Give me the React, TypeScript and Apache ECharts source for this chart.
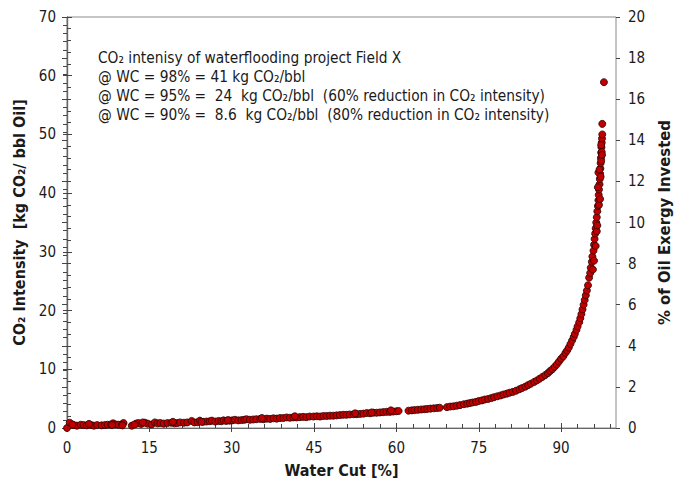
import React, { useEffect, useRef } from "react";
import * as echarts from "echarts";

const FONT = '"DejaVu Sans Condensed", "DejaVu Sans", sans-serif';

const xMajorTicks = [0, 15, 30, 45, 60, 75, 90];
const xMinorTicks = [0, 3, 6, 9, 12, 15, 18, 21, 24, 27, 30, 33, 36, 39, 42, 45, 48, 51, 54, 57, 60, 63, 66, 69, 72, 75, 78, 81, 84, 87, 90, 93, 96, 99];

const annotationLines = [
  "CO₂ intenisy of waterflooding project Field X",
  "@ WC = 98% = 41 kg CO₂/bbl",
  "@ WC = 95% =  24  kg CO₂/bbl  (60% reduction in CO₂ intensity)",
  "@ WC = 90% =  8.6  kg CO₂/bbl  (80% reduction in CO₂ intensity)",
];

const waterCut = [
  0, 0.5, 1.2, 1.8, 2.5, 3.0, 3.6, 4.4, 4.9, 5.5, 6.3, 6.9, 7.4, 8.0, 8.4, 8.9, 9.4, 10.0, 10.3,
  11.8, 12.6, 13.0, 13.5, 14.2, 14.7, 15.4, 16.0, 16.5, 17.0, 17.6, 18.3, 19.0, 19.6, 20.1, 20.6,
  21.3, 21.9, 22.7, 23.2, 23.8, 24.2, 24.8, 25.4, 26.0, 26.4, 27.0, 27.6, 28.1, 28.5, 29.0, 29.6,
  30.1, 30.6, 31.2, 31.8, 32.3, 32.7, 33.3, 33.9, 34.5, 35.2, 35.8, 36.4, 37.0, 37.6, 38.2, 38.8,
  39.4, 40.0, 40.6, 41.2, 41.8, 42.4, 43.0, 43.6, 44.2, 44.9, 45.5, 46.1, 46.7, 47.3, 47.9, 48.5,
  49.1, 49.7, 50.3, 50.9, 51.5, 52.2, 52.8, 53.4, 54.0, 54.6, 55.2, 55.8, 56.4, 57.0, 57.6, 58.2,
  58.8, 59.4, 60.0, 60.4, 62.2, 62.8, 63.3, 63.9, 64.5, 65.1, 65.6, 66.2, 66.8, 67.4, 67.9, 69.2,
  69.8, 70.4, 71.0, 71.6, 72.3, 72.9, 73.4, 73.9, 74.5, 75.0, 75.6, 76.1, 76.7, 77.3, 77.8, 78.4,
  79.0, 79.5, 80.1, 80.6, 81.2, 81.8, 82.4, 82.9, 83.5, 84.0, 84.5, 85.1, 85.6, 86.1, 86.6, 87.1,
  87.6, 88.0, 88.4, 88.8, 89.2, 89.6, 90.0, 90.4, 90.8, 91.1, 91.4, 91.7, 92.0, 92.3, 92.5, 92.8,
  93.0, 93.3, 93.5, 93.7, 93.9, 94.1, 94.3, 94.5, 94.7, 94.9, 95.1, 95.3, 95.4, 95.6, 95.7, 95.9,
  96.0, 96.1, 96.2, 96.3, 96.4, 96.5, 96.6, 96.7, 96.8, 96.85, 96.9, 97.0, 97.05, 97.1, 97.15, 97.2,
  97.25, 97.3, 97.35, 97.4, 97.45, 97.5, 97.5, 97.8,
  95.8, 96.0, 96.3, 96.5, 96.6, 96.7, 96.8, 96.9, 97.0, 97.1, 97.2, 97.3, 97.4, 97.3, 97.45,
  1.0, 4.0, 8.2, 10.1, 12.3, 13.8, 19.3, 24.5, 29.3, 35.5, 41.5, 52.5, 55.5, 59.0,
];

const intensity = [
  0, 0.9, 0.5, 0.4, 0.55, 0.5, 0.45, 0.5, 0.4, 0.5, 0.45, 0.5, 0.55, 0.6, 0.8, 0.6, 0.55, 0.65, 0.85,
  0.4, 0.75, 0.85, 0.7, 0.9, 0.75, 0.6, 0.95, 0.8, 0.85, 0.75, 0.85, 0.9, 0.8, 0.85, 0.95,
  0.9, 0.95, 1.2, 0.95, 1.0, 1.25, 1.05, 1.1, 1.15, 1.25, 1.1, 1.2, 1.15, 1.3, 1.2, 1.25,
  1.3, 1.4, 1.3, 1.35, 1.4, 1.5, 1.4, 1.45, 1.5, 1.55, 1.5, 1.6, 1.55, 1.65, 1.6, 1.7,
  1.7, 1.8, 1.75, 1.8, 1.8, 1.85, 1.9, 1.85, 1.95, 1.95, 2.0, 1.95, 2.05, 2.05, 2.1, 2.1,
  2.15, 2.2, 2.25, 2.25, 2.3, 2.35, 2.35, 2.4, 2.45, 2.55, 2.5, 2.6, 2.6, 2.65, 2.7, 2.75,
  2.75, 2.8, 2.85, 2.9, 2.95, 3.0, 3.05, 3.1, 3.15, 3.2, 3.25, 3.3, 3.35, 3.4, 3.45, 3.55,
  3.65, 3.7, 3.8, 3.9, 4.05, 4.15, 4.25, 4.35, 4.45, 4.6, 4.7, 4.85, 4.95, 5.1, 5.25, 5.4,
  5.55, 5.7, 5.85, 6.0, 6.15, 6.35, 6.6, 6.8, 7.05, 7.3, 7.55, 7.85, 8.1, 8.4, 8.7, 9.0,
  9.35, 9.7, 10.0, 10.4, 10.8, 11.3, 11.8, 12.2, 12.8, 13.2, 13.7, 14.3, 14.9, 15.5, 16.0, 16.7,
  17.3, 18.0, 18.7, 19.4, 20.2, 21.0, 21.8, 22.6, 23.4, 24.3, 25.6, 26.4, 27.3, 28.3, 29.2, 30.2,
  31.2, 32.2, 33.1, 34.0, 35.0, 35.9, 36.9, 37.8, 38.8, 39.7, 40.6, 41.5, 42.4, 43.3, 44.2, 45.1,
  46.0, 46.9, 47.8, 48.6, 49.3, 50.0, 51.8, 58.9,
  27.0, 28.5, 31.0, 33.5, 34.5, 41.0, 43.5, 38.0, 44.0, 39.0, 42.8, 45.5, 47.0, 48.2, 46.5,
  0.6, 0.7, 0.5, 0.45, 0.6, 0.95, 1.05, 1.05, 1.35, 1.7, 2.0, 2.5, 2.65, 3.0,
];

const tickColor = "#444";
const labelStyle = { fontFamily: FONT, fontSize: 15, color: "#1a1a1a" };
const nameStyle = { fontFamily: FONT, fontSize: 16, fontWeight: "bold" as const, color: "#1a1a1a" };

export default function App() {
  const ref = useRef<HTMLDivElement>(null);
  useEffect(() => {
    if (!ref.current) return;
    const chart = echarts.init(ref.current, null, { renderer: "svg" });
    const points = waterCut.map((x, i) => [x, intensity[i]]);
    const hidden = { axisLabel: { show: false }, splitLine: { show: false }, axisLine: { show: false } };
    chart.setOption({
      animation: false,
      backgroundColor: "#ffffff",
      grid: {
        left: 67,
        right: 74,
        top: 17,
        bottom: 56,
        show: true,
        borderColor: "#8a8a8a",
        borderWidth: 1,
        backgroundColor: "transparent",
      },
      xAxis: [
        {
          type: "value",
          min: 0,
          max: 100,
          interval: 15,
          position: "bottom",
          axisLine: { show: true, lineStyle: { color: "#666", width: 1.2 } },
          axisTick: { show: true, inside: true, length: 5, customValues: xMajorTicks, lineStyle: { color: tickColor } },
          axisLabel: { ...labelStyle, margin: 12, customValues: xMajorTicks },
          splitLine: { show: false },
          name: "Water Cut [%]",
          nameLocation: "middle",
          nameGap: 34,
          nameTextStyle: nameStyle,
        },
        {
          type: "value",
          min: 0,
          max: 100,
          position: "bottom",
          ...hidden,
          axisTick: { show: true, inside: true, length: 4, customValues: xMinorTicks, lineStyle: { color: tickColor } },
        },
        {
          type: "value",
          min: 0,
          max: 100,
          position: "bottom",
          ...hidden,
          axisTick: { show: true, inside: false, length: 4, customValues: xMajorTicks, lineStyle: { color: tickColor } },
        },
      ],
      yAxis: [
        {
          type: "value",
          min: 0,
          max: 70,
          interval: 10,
          position: "left",
          axisLine: { show: true, lineStyle: { color: "#666", width: 1.2 } },
          axisTick: { show: true, inside: true, length: 5, lineStyle: { color: tickColor } },
          minorTick: { show: true, splitNumber: 5, length: 4, lineStyle: { color: tickColor } },
          axisLabel: { ...labelStyle, margin: 11 },
          splitLine: { show: false },
          name: "CO₂ Intensity  [kg CO₂/ bbl Oil]",
          nameLocation: "middle",
          nameGap: 31,
          nameTextStyle: { ...nameStyle, fontSize: 16 },
        },
        {
          type: "value",
          min: 0,
          max: 20,
          interval: 2,
          position: "right",
          axisLine: { show: true, lineStyle: { color: "#666", width: 1.2 } },
          axisTick: { show: true, inside: true, length: 5, lineStyle: { color: tickColor } },
          minorTick: { show: true, splitNumber: 5, length: 4, lineStyle: { color: tickColor } },
          axisLabel: { ...labelStyle, margin: 12 },
          splitLine: { show: false },
          name: "% of Oil Exergy Invested",
          nameLocation: "middle",
          nameGap: 39,
          nameRotate: 90,
          nameTextStyle: { ...nameStyle, fontSize: 16.5 },
        },
        {
          type: "value",
          min: 0,
          max: 70,
          interval: 10,
          position: "left",
          ...hidden,
          axisTick: { show: true, inside: false, length: 4, lineStyle: { color: tickColor } },
        },
        {
          type: "value",
          min: 0,
          max: 20,
          interval: 2,
          position: "right",
          ...hidden,
          axisTick: { show: true, inside: false, length: 4, lineStyle: { color: tickColor } },
        },
      ],
      graphic: [
        {
          type: "text",
          left: 98,
          top: 48,
          style: {
            text: annotationLines.join("\n"),
            font: `15.3px ${FONT}`,
            lineHeight: 19,
            fill: "#1a1a1a",
          },
        },
      ],
      series: [
        {
          type: "scatter",
          xAxisIndex: 0,
          yAxisIndex: 0,
          data: points,
          symbol: "circle",
          symbolSize: 7,
          itemStyle: { color: "#c00000", borderColor: "#2a0000", borderWidth: 0.8, opacity: 1 },
        },
      ],
    });
    return () => chart.dispose();
  }, []);
  return <div ref={ref} style={{ width: 690, height: 484, position: "absolute", left: 0, top: 0 }} />;
}
